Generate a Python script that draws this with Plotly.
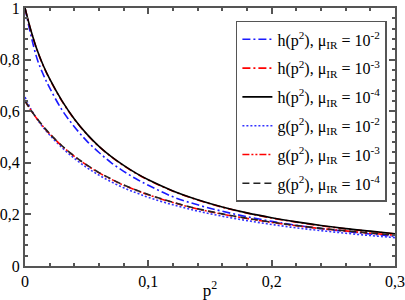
import plotly.graph_objects as go

p2 = [0, 0.005, 0.01, 0.015, 0.02, 0.03, 0.04, 0.05, 0.06, 0.07, 0.08, 0.09, 0.1,
      0.12, 0.14, 0.16, 0.18, 0.2, 0.22, 0.24, 0.26, 0.28, 0.3]

h_mu2 = [1.0, 0.89, 0.80, 0.74, 0.69, 0.605, 0.54, 0.485, 0.44, 0.40, 0.367, 0.338, 0.313,
         0.268, 0.237, 0.212, 0.191, 0.173, 0.158, 0.145, 0.134, 0.124, 0.115]
h_mu3 = [1.0, 0.909, 0.834, 0.774, 0.724, 0.639, 0.569, 0.511, 0.463, 0.423, 0.389, 0.359, 0.333,
         0.290, 0.256, 0.228, 0.205, 0.186, 0.170, 0.156, 0.144, 0.134, 0.124]
h_mu4 = [1.0, 0.91, 0.835, 0.775, 0.725, 0.64, 0.57, 0.512, 0.464, 0.424, 0.39, 0.36, 0.334,
         0.291, 0.257, 0.229, 0.206, 0.187, 0.171, 0.157, 0.145, 0.135, 0.125]
g_mu2 = [0.655, 0.606, 0.568, 0.536, 0.508, 0.459, 0.417, 0.382, 0.352, 0.326, 0.303, 0.284, 0.266,
         0.237, 0.213, 0.193, 0.176, 0.161, 0.148, 0.137, 0.127, 0.118, 0.110]
g_mu3 = [0.64, 0.602, 0.569, 0.539, 0.512, 0.465, 0.425, 0.391, 0.361, 0.336, 0.313, 0.294, 0.276,
         0.246, 0.221, 0.201, 0.184, 0.169, 0.156, 0.145, 0.136, 0.127, 0.119]
g_mu4 = [0.64, 0.603, 0.570, 0.540, 0.513, 0.466, 0.426, 0.392, 0.362, 0.337, 0.314, 0.295, 0.277,
         0.247, 0.222, 0.202, 0.185, 0.170, 0.157, 0.146, 0.1365, 0.128, 0.120]

names = [
    "h(p<sup>2</sup>), μ<sub>IR</sub> = 10<sup>-2</sup>",
    "h(p<sup>2</sup>), μ<sub>IR</sub> = 10<sup>-3</sup>",
    "h(p<sup>2</sup>), μ<sub>IR</sub> = 10<sup>-4</sup>",
    "g(p<sup>2</sup>), μ<sub>IR</sub> = 10<sup>-2</sup>",
    "g(p<sup>2</sup>), μ<sub>IR</sub> = 10<sup>-3</sup>",
    "g(p<sup>2</sup>), μ<sub>IR</sub> = 10<sup>-4</sup>",
]
series = [h_mu2, h_mu3, h_mu4, g_mu2, g_mu3, g_mu4]
colors = ["#1a1aff", "#ff0000", "#000000", "#3333ff", "#ff0000", "#222222"]
dashes = ["8px,3px,2px,3px", "8px,3px,2px,3px", "solid", "2px,2px",
          "7px,2px,2px,2px,2px,2px", "7px,4px"]

fig = go.Figure()
for i, (nm, ys, c, d) in enumerate(zip(names, series, colors, dashes)):
    fig.add_trace(go.Scatter(x=p2, y=ys, mode="lines", name=nm, legendgroup=f"g{i}",
                             line=dict(color=c, dash=d, width=1.6, shape="spline")))

font = "Times New Roman, Liberation Serif, DejaVu Serif, serif"
axis_common = dict(showline=True, linecolor="#555", linewidth=2, mirror="ticks",
                   ticks="inside", ticklen=6, tickcolor="#555", tickwidth=1.5,
                   showgrid=False, zeroline=False, automargin=False,
                   ticklabeloverflow="allow",
                   tickfont=dict(family=font, size=16, color="black"))
fig.update_layout(
    width=405, height=300,
    margin=dict(l=25, r=10, t=8, b=34, autoexpand=False),
    paper_bgcolor="white", plot_bgcolor="white",
    separators=",.",
    font=dict(family=font, size=15, color="black"),
    xaxis=dict(range=[0, 0.3], dtick=0.1, tick0=0,
               minor=dict(dtick=0.02, ticks="inside", ticklen=3, tickcolor="#555"),
               title=dict(text="p<sup>2</sup>", font=dict(family=font, size=17), standoff=0),
               **axis_common),
    yaxis=dict(range=[0, 1], dtick=0.2, tick0=0,
               minor=dict(dtick=0.04, ticks="inside", ticklen=3, tickcolor="#555"),
               **axis_common),
    legend=dict(x=0.57, y=0.95, xanchor="left", yanchor="top",
                bgcolor="white", bordercolor="#555", borderwidth=1.5,
                tracegroupgap=5, itemwidth=30,
                font=dict(family=font, size=16, color="black")),
    showlegend=True,
)
fig.write_html("out.html", config={"displayModeBar": False},
               post_script="document.body.style.margin='0';")
